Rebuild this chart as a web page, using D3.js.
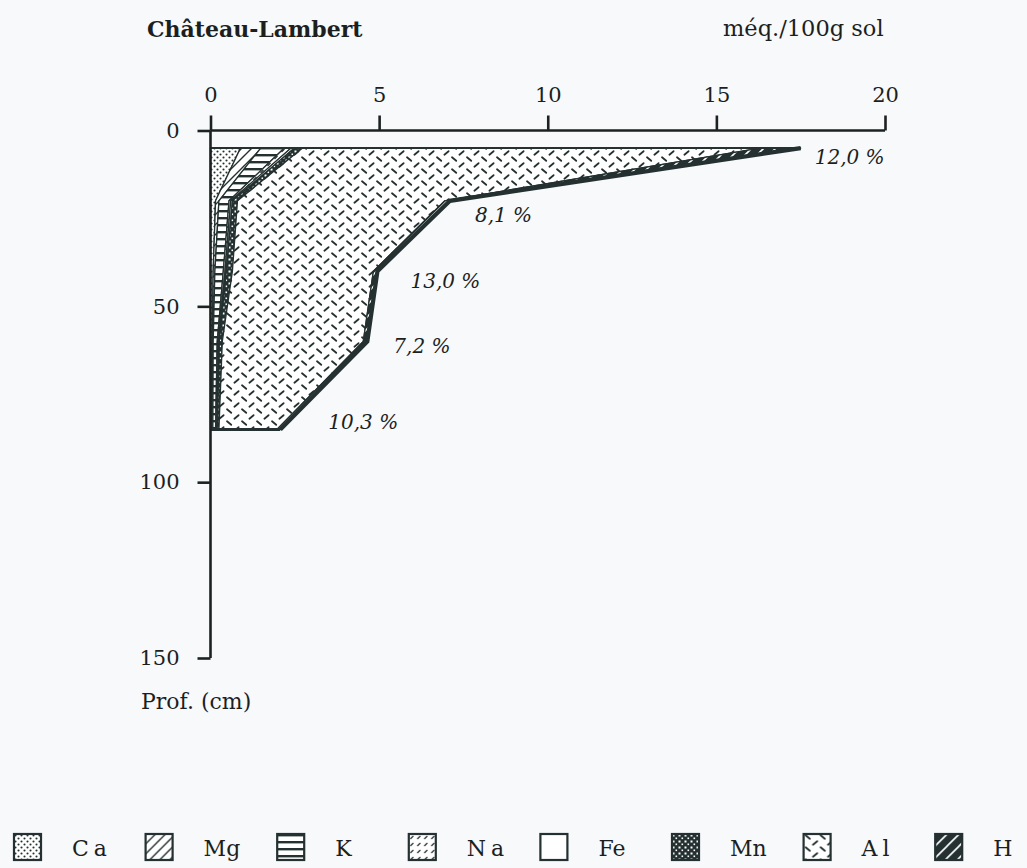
<!DOCTYPE html>
<html>
<head>
<meta charset="utf-8">
<script src="https://cdn.jsdelivr.net/npm/d3@7"></script>
<style>
  html, body { margin: 0; padding: 0; background: #f7f9fb; }
  svg { display: block; }
  text { font-family: "DejaVu Serif", "Liberation Serif", serif; fill: #1d1f1f; }
</style>
</head>
<body>
<svg id="chart" width="1027" height="868"></svg>
<script>
// Exchangeable cations (méq./100g sol) by depth, profile Château-Lambert
const depths = [5, 20, 40, 60, 85];
const cations = ["Ca", "Mg", "K", "Na", "Fe", "Mn", "Al", "H"];
const ca = [0.89, 0.15, 0.08, 0.05, 0.04];
const mg = [0.60, 0.10, 0.05, 0.03, 0.03];
const k  = [0.70, 0.30, 0.25, 0.12, 0.08];
const na = [0.20, 0.05, 0.05, 0.03, 0.03];
const fe = [0.10, 0.05, 0.04, 0.03, 0.02];
const mn = [0.24, 0.15, 0.18, 0.09, 0.05];
const al = [13.57, 6.15, 4.18, 4.18, 1.72];
const h  = [1.20, 0.15, 0.12, 0.12, 0.10];
const saturation = [12.0, 8.1, 13.0, 7.2, 10.3];
const xTicks = [0, 5, 10, 15, 20];
const yTicks = [0, 50, 100, 150];

const seriesValues = { Ca: ca, Mg: mg, K: k, Na: na, Fe: fe, Mn: mn, Al: al, H: h };
const rows = depths.map((d, i) => {
  const r = { depth: d };
  cations.forEach(c => { r[c] = seriesValues[c][i]; });
  return r;
});

const ink = "#243130";
const svg = d3.select("#chart");

const x = d3.scaleLinear().domain([0, 20]).range([210.5, 885]);
const y = d3.scaleLinear().domain([0, 150]).range([130.5, 658]);

// ---- fill patterns -------------------------------------------------------
const defs = svg.append("defs");
function pattern(id, w, hgt, bg, draw) {
  const p = defs.append("pattern").attr("id", id)
    .attr("patternUnits", "userSpaceOnUse").attr("width", w).attr("height", hgt);
  p.append("rect").attr("width", w).attr("height", hgt).attr("fill", bg);
  draw(p);
}
pattern("p-Ca", 6, 6, "#fff", p => {
  p.append("circle").attr("cx", 1.5).attr("cy", 1.5).attr("r", 1.05).attr("fill", ink);
  p.append("circle").attr("cx", 4.5).attr("cy", 4.5).attr("r", 1.05).attr("fill", ink);
});
pattern("p-Mg", 10, 10, "#fff", p => {
  p.append("path").attr("d", "M0,10L10,0M-2,2L2,-2M8,12L12,8")
    .attr("stroke", ink).attr("stroke-width", 1.4);
});
pattern("p-K", 7, 7, "#fff", p => {
  p.append("rect").attr("y", 0).attr("width", 7).attr("height", 2.4).attr("fill", ink);
});
pattern("p-Na", 7, 7, "#fff", p => {
  p.append("path").attr("d", "M1.5,5L4.5,2").attr("stroke", ink).attr("stroke-width", 1.2);
});
pattern("p-Fe", 6, 6, "#fff", p => {});
pattern("p-Mn", 6, 6, ink, p => {
  p.append("rect").attr("x", 0.5).attr("y", 0.5).attr("width", 2).attr("height", 2).attr("fill", "#fff");
  p.append("rect").attr("x", 3.5).attr("y", 3.5).attr("width", 1.6).attr("height", 1.6).attr("fill", "#fff");
});
pattern("p-Al", 15, 12, "#fff", p => {
  p.append("path").attr("d", "M2,1.3L6.2,4.8M9.4,10.7L13.6,7.2")
    .attr("stroke", ink).attr("stroke-width", 1.8).attr("stroke-linecap", "round");
});
pattern("p-H", 12, 12, ink, p => {
  p.append("path").attr("d", "M0,12L12,0M-2,2L2,-2M10,14L14,10")
    .attr("stroke", "#fff").attr("stroke-width", 1.6);
});

// ---- stacked profile -----------------------------------------------------
const stacked = d3.stack().keys(cations)(rows);
const area = d3.area()
  .y(d => y(d.data.depth))
  .x0(d => x(d[0]))
  .x1(d => x(d[1]));

const plot = svg.append("g");
plot.selectAll("path.layer")
  .data(stacked)
  .join("path")
  .attr("class", "layer")
  .attr("d", area)
  .attr("fill", d => `url(#p-${d.key})`)
  .attr("stroke", ink)
  .attr("stroke-width", 1.3)
  .attr("stroke-linejoin", "round");

const totals = rows.map(r => ({ depth: r.depth, total: d3.sum(cations, c => r[c]) }));

// outer envelope
plot.append("path")
  .datum(totals)
  .attr("d", d3.line().x(d => x(d.total)).y(d => y(d.depth)))
  .attr("fill", "none").attr("stroke", ink).attr("stroke-width", 4.2)
  .attr("stroke-linejoin", "miter").attr("stroke-miterlimit", 20);

// top and bottom horizon lines
const first = totals[0], last = totals[totals.length - 1];
plot.append("line")
  .attr("x1", x(0)).attr("x2", x(first.total))
  .attr("y1", y(first.depth)).attr("y2", y(first.depth))
  .attr("stroke", ink).attr("stroke-width", 2);
plot.append("line")
  .attr("x1", x(0)).attr("x2", x(last.total))
  .attr("y1", y(last.depth)).attr("y2", y(last.depth))
  .attr("stroke", ink).attr("stroke-width", 3);

// saturation labels beside each horizon
const labelNudge = [[14, 16], [25, 21], [33, 17], [26, 11], [48, 0]];
const fmt = v => d3.format(".1f")(v).replace(".", ",") + " %";
plot.selectAll("text.sat")
  .data(totals)
  .join("text")
  .attr("class", "sat")
  .attr("x", (d, i) => x(d.total) + labelNudge[i][0])
  .attr("y", (d, i) => y(d.depth) + labelNudge[i][1])
  .attr("font-size", 20)
  .attr("font-style", "italic")
  .text((d, i) => fmt(saturation[i]));

// ---- axes ----------------------------------------------------------------
const xAxis = svg.append("g")
  .attr("transform", `translate(0,${y(0)})`)
  .call(d3.axisTop(x).tickValues(xTicks).tickSize(15).tickPadding(14).tickFormat(d3.format("d")));
const yAxis = svg.append("g")
  .attr("transform", `translate(${x(0)},0)`)
  .call(d3.axisLeft(y).tickValues(yTicks).tickSize(13).tickPadding(18).tickFormat(d3.format("d")));

[xAxis, yAxis].forEach(g => {
  g.select(".domain").attr("stroke", "#1c2221").attr("stroke-width", 2.6);
  g.selectAll(".tick line").attr("stroke", "#1c2221").attr("stroke-width", 2.6);
  g.selectAll(".tick text")
    .attr("font-family", '"DejaVu Serif", serif')
    .attr("font-size", 21).attr("fill", "#1d1f1f");
});
xAxis.select(".domain").attr("d", `M${x(0)},0H${x(20)}`);
yAxis.select(".domain").attr("d", `M0,${y(0)}V${y(150)}`);

// ---- titles --------------------------------------------------------------
svg.append("text").attr("x", 147).attr("y", 37)
  .attr("font-size", 22).attr("font-weight", "bold").text("Château-Lambert");
svg.append("text").attr("x", 723).attr("y", 36)
  .attr("font-size", 22.5).text("méq./100g sol");
svg.append("text").attr("x", 141).attr("y", 709)
  .attr("font-size", 22).text("Prof. (cm)");

// ---- legend --------------------------------------------------------------
const legend = svg.append("g").attr("transform", "translate(14,834)");
const spaced = new Set(["Ca", "Na", "Al"]);
const item = legend.selectAll("g.item")
  .data(cations)
  .join("g")
  .attr("class", "item")
  .attr("transform", (d, i) => `translate(${i * 131.6},0)`);
item.append("rect")
  .attr("width", 27).attr("height", 26)
  .attr("fill", d => `url(#p-${d})`)
  .attr("stroke", ink).attr("stroke-width", 2.2);
item.append("text")
  .attr("x", 58).attr("y", 22)
  .attr("font-size", 22)
  .attr("letter-spacing", d => spaced.has(d) ? 5 : 0)
  .text(d => d);
</script>
</body>
</html>
